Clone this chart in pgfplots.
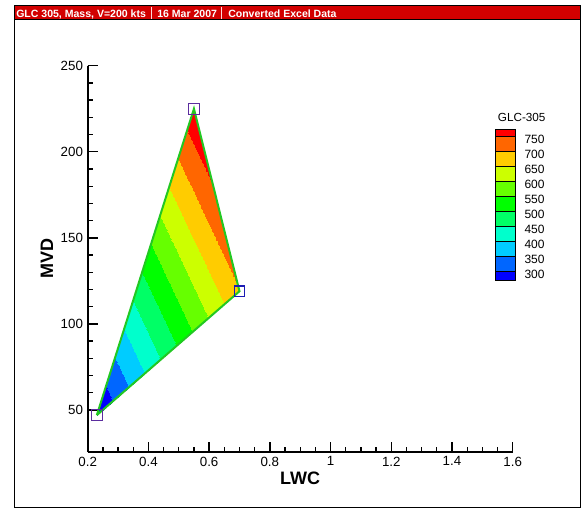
\documentclass[border=0pt]{standalone}
\usepackage{pgfplots}
\pgfplotsset{compat=1.18}
\usepackage{fontspec}
\setmainfont{Liberation Sans}
\definecolor{c0}{HTML}{0000FF}
\definecolor{c1}{HTML}{0066FF}
\definecolor{c2}{HTML}{00CCFF}
\definecolor{c3}{HTML}{00FFCC}
\definecolor{c4}{HTML}{00FF66}
\definecolor{c5}{HTML}{00FF00}
\definecolor{c6}{HTML}{66FF00}
\definecolor{c7}{HTML}{CCFF00}
\definecolor{c8}{HTML}{FFCC00}
\definecolor{c9}{HTML}{FF6600}
\definecolor{c10}{HTML}{FF0000}
\definecolor{hdrred}{HTML}{D20000}
\definecolor{edgegreen}{HTML}{22C822}
\definecolor{markpurple}{HTML}{5B2D9E}
\definecolor{markblue}{HTML}{1C1CB4}
\begin{document}
\begin{tikzpicture}
\begin{scope}[x=0.75pt,y=-0.75pt]
\path (0,0) rectangle (581,508);
\fill[hdrred] (14.5,5.7) rectangle (580,19.5);
\draw[black, line width=0.75pt] (14.5,19.5) -- (580,19.5);
\draw[black, line width=0.75pt] (14.5,5.7) rectangle (580,507);
\tikzset{hdr/.style={anchor=base west, inner sep=0pt, text=white, font=\fontsize{7.9}{9}\selectfont\bfseries}}
\node[hdr] at (16,17.2) {GLC 305, Mass, V=200 kts};
\node[hdr] at (157,17.2) {16 Mar 2007};
\node[hdr] at (228,17.2) {Converted Excel Data};
\draw[white!85!red, line width=0.6pt] (151.7,7) -- (151.7,19);
\draw[white!85!red, line width=0.6pt] (221.7,7) -- (221.7,19);
% legend
\node[font=\fontsize{8.8}{10}\selectfont] at (521.7,117.3) {GLC-305};
\foreach \top/\bot/\c in {129.3/136.7/c10, 136.7/151.7/c9, 151.7/166.7/c8, 166.7/181.7/c7, 181.7/196.7/c6, 196.7/211.7/c5, 211.7/226.7/c4, 226.7/241.7/c3, 241.7/256.7/c2, 256.7/271.7/c1, 271.7/280/c0}
  \filldraw[fill=\c, draw=black, line width=0.5pt] (495.7,\top) rectangle (515,\bot);
\foreach \y/\t in {136.7/750, 151.7/700, 166.7/650, 181.7/600, 196.7/550, 211.7/500, 226.7/450, 241.7/400, 256.7/350, 271.7/300}
  \node[anchor=west, inner sep=0pt, font=\fontsize{9}{10}\selectfont] at (524.3,\y+2.5) {\t};
\end{scope}
\begin{axis}[
  at={(65.775pt,-339pt)}, anchor=south west,
  scale only axis, width=318.75pt, height=289.7pt,
  xmin=0.2, xmax=1.6, ymin=25.6, ymax=250,
  axis x line*=bottom, axis y line*=left,
  xtick={0.2,0.4,0.6,0.8,1,1.2,1.4,1.6},
  ytick={50,100,150,200,250},
  minor x tick num=3, minor y tick num=4,
  tick align=inside,
  major tick length=7.5pt, minor tick length=3.75pt,
  axis line style={line width=1.5pt},
  every tick/.style={line width=1pt, black},
  tick label style={font=\fontsize{10}{12}\selectfont},
  /pgf/number format/assume math mode=true,
  xlabel={LWC}, ylabel={MVD},
  xlabel style={font=\fontsize{13.5}{15}\selectfont\bfseries, at={(axis description cs:0.5,-0.067)}, anchor=center},
  ylabel style={font=\fontsize{13.5}{15}\selectfont\bfseries, at={(axis description cs:-0.096,0.5)}, anchor=center},
  colormap={glc}{color(250)=(c0) color(300)=(c1) color(350)=(c2) color(400)=(c3) color(450)=(c4) color(500)=(c5) color(550)=(c6) color(600)=(c7) color(650)=(c8) color(700)=(c9) color(750)=(c10) color(800)=(c10)},
  colormap access=piecewise constant,
  point meta min=250, point meta max=800,
  clip=false,
]
\addplot[patch, patch type=triangle, shader=interp, point meta=explicit] coordinates {
  (0.23,47) [250]
  (0.70,119) [697]
  (0.55,225) [788]
};
\addplot[line width=1.5pt, color=edgegreen, no marks] coordinates {(0.23,47) (0.70,119) (0.55,225) (0.23,47)};
\addplot[only marks, mark=square, mark size=4pt, draw=markpurple, line width=0.9pt] coordinates {(0.23,47) (0.55,225)};
\addplot[only marks, mark=square, mark size=4pt, draw=markblue, line width=0.9pt] coordinates {(0.70,119)};
\end{axis}
\end{tikzpicture}
\end{document}
